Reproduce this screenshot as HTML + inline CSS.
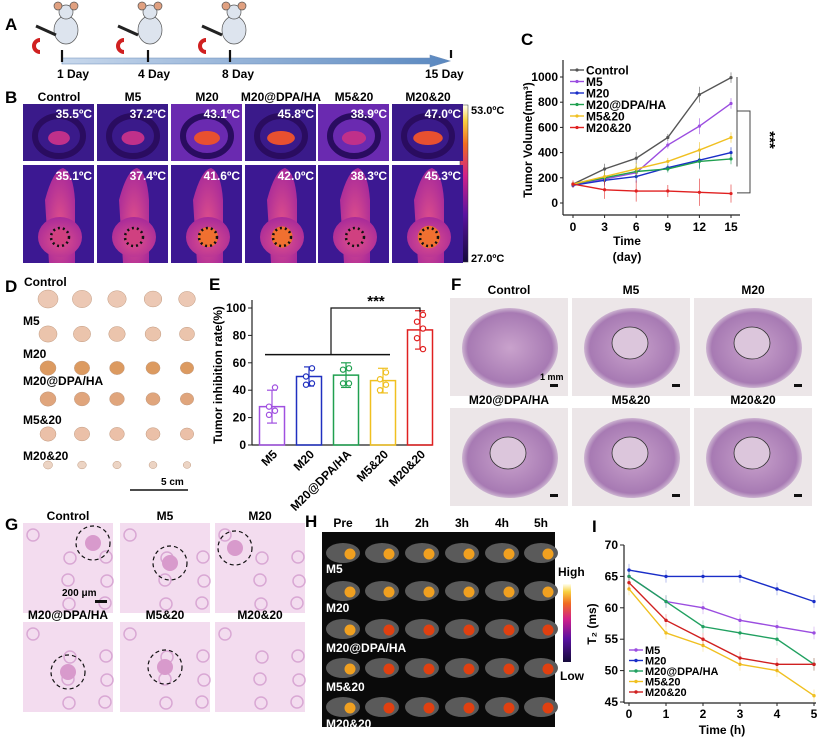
<!DOCTYPE html>
<html><head><meta charset="utf-8"><style>
html,body{margin:0;padding:0;background:#fff}
svg{display:block;font-family:"Liberation Sans",Arial,sans-serif;font-weight:bold}
</style></head><body>
<svg id="fig" width="825" height="740" viewBox="0 0 825 740">
<defs>
<linearGradient id="therm" x1="0" y1="1" x2="0" y2="0">
<stop offset="0" stop-color="#140a3a"/><stop offset="0.3" stop-color="#5a12a0"/><stop offset="0.55" stop-color="#d0208a"/><stop offset="0.75" stop-color="#f06a20"/><stop offset="0.9" stop-color="#f8d040"/><stop offset="1" stop-color="#fffff0"/></linearGradient>
<radialGradient id="mouse" cx="0.5" cy="0.6" r="0.6"><stop offset="0" stop-color="#e0508a"/><stop offset="1" stop-color="#a82a9a"/></radialGradient>
<radialGradient id="tissue" cx="0.5" cy="0.5" r="0.55"><stop offset="0" stop-color="#c9a2cc"/><stop offset="0.8" stop-color="#a77ab3"/><stop offset="1" stop-color="#ece4ea"/></radialGradient>
<linearGradient id="arrow" x1="0" x2="1"><stop offset="0" stop-color="#c8d8ec"/><stop offset="1" stop-color="#5a88c0"/></linearGradient>
</defs>

<!-- Panel A -->
<g>
<text x="5" y="30" font-size="17">A</text>
<polygon points="62,58 430,58 430,55 450,61 430,67 430,64 62,64" fill="url(#arrow)" stroke="#6a8cb8" stroke-width="0.6"/>
<g stroke="#111" stroke-width="2.2">
<line x1="62" y1="50" x2="62" y2="62"/><line x1="148" y1="50" x2="148" y2="62"/><line x1="230" y1="50" x2="230" y2="62"/><line x1="451" y1="50" x2="451" y2="58"/></g>
<g font-size="12"><text x="57" y="78">1 Day</text><text x="138" y="78">4 Day</text><text x="222" y="78">8 Day</text><text x="425" y="78">15 Day</text></g>
<g fill="#dde4ee" stroke="#555" stroke-width="0.7">
<ellipse cx="66" cy="30" rx="12" ry="14"/><circle cx="66" cy="12" r="7"/><circle cx="58" cy="6" r="4" fill="#e0a080"/><circle cx="74" cy="6" r="4" fill="#e0a080"/>
<ellipse cx="150" cy="30" rx="12" ry="14"/><circle cx="150" cy="12" r="7"/><circle cx="142" cy="6" r="4" fill="#e0a080"/><circle cx="158" cy="6" r="4" fill="#e0a080"/>
<ellipse cx="234" cy="30" rx="12" ry="14"/><circle cx="234" cy="12" r="7"/><circle cx="226" cy="6" r="4" fill="#e0a080"/><circle cx="242" cy="6" r="4" fill="#e0a080"/>
</g>
<g stroke-width="4" fill="none"><path d="M40,52 a6,6 0 0 1 0,-12" stroke="#d02020"/><path d="M124,52 a6,6 0 0 1 0,-12" stroke="#d02020"/><path d="M206,52 a6,6 0 0 1 0,-12" stroke="#d02020"/></g>
<g stroke="#222" stroke-width="3"><line x1="36" y1="26" x2="56" y2="35"/><line x1="118" y1="26" x2="138" y2="35"/><line x1="202" y1="26" x2="222" y2="35"/></g>
</g>

<!-- Panel B -->
<g id="panelB">
<text x="5" y="103" font-size="17">B</text>
<rect x="460" y="105" width="8" height="157" fill="url(#therm)" stroke="#333" stroke-width="0.5"/>
<text x="471" y="114" font-size="11">53.0ºC</text>
<text x="471" y="262" font-size="11">27.0ºC</text>
</g>

<!-- Panel C -->
<g id="panelC">
<text x="521" y="45" font-size="17">C</text>
</g>

<!-- Panel D -->
<g id="panelD">
<text x="5" y="292" font-size="17">D</text>
<g font-size="12"><text x="24" y="286">Control</text><text x="23" y="325">M5</text><text x="23" y="358">M20</text><text x="23" y="385">M20@DPA/HA</text><text x="23" y="424">M5&amp;20</text><text x="23" y="460">M20&amp;20</text></g>
<line x1="130" y1="490" x2="188" y2="490" stroke="#111" stroke-width="1.5"/>
<text x="161" y="485" font-size="10">5 cm</text>
</g>

<!-- Panel E -->
<g id="panelE">
<text x="209" y="290" font-size="17">E</text>
</g>

<!-- Panel F -->
<g id="panelF">
<text x="451" y="290" font-size="17">F</text>
</g>

<!-- Panel G -->
<g id="panelG">
<text x="5" y="530" font-size="17">G</text>
</g>

<!-- Panel H -->
<g id="panelH">
<text x="305" y="527" font-size="17">H</text>
<rect x="322" y="532" width="233" height="195" fill="#0a0a0a"/>
<rect x="563" y="584" width="8" height="78" fill="url(#therm)"/>
<text x="558" y="576" font-size="12">High</text>
<text x="560" y="680" font-size="12">Low</text>
</g>

<!-- Panel I -->
<g id="panelI">
<text x="592" y="532" font-size="17">I</text>
</g>
</svg>

<script>
// ---------- Chart C data ----------
const cDays = [0, 3, 6, 9, 12, 15];
const cSeriesNames = ["Control", "M5", "M20", "M20@DPA/HA", "M5&20", "M20&20"];
const cControl = [150, 270, 355, 520, 860, 995];
const cM5 = [150, 190, 240, 460, 610, 790];
const cM20 = [140, 180, 210, 280, 340, 400];
const cDPA = [150, 200, 250, 270, 330, 350];
const cM5_20 = [150, 210, 270, 330, 420, 520];
const cM20_20 = [150, 105, 95, 95, 85, 75];
const cErr = [25, 60, 70, 40, 90, 60];
const cYTicks = [0, 200, 400, 600, 800, 1000];

// ---------- Chart E data ----------
const eGroups = ["M5", "M20", "M20@DPA/HA", "M5&20", "M20&20"];
const eMeans = [28, 50, 51, 47, 84];
const eSD = [12, 7, 9, 9, 14];
const eDots = [[42, 28, 25, 22], [56, 50, 45, 44], [56, 55, 45, 45], [53, 48, 44, 40], [95, 90, 85, 78, 70]];
const eYTicks = [0, 20, 40, 60, 80, 100];

// ---------- Chart I data ----------
const iHours = [0, 1, 2, 3, 4, 5];
const iNames = ["M5", "M20", "M20@DPA/HA", "M5&20", "M20&20"];
const iM5 = [65, 61, 60, 58, 57, 56];
const iM20 = [66, 65, 65, 65, 63, 61];
const iDPA = [65, 61, 57, 56, 55, 51];
const iM5_20 = [63, 56, 54, 51, 50, 46];
const iM20_20 = [64, 58, 55, 52, 51, 51];
const iYTicks = [45, 50, 55, 60, 65, 70];

// ---------- image panel labels ----------
const bGroups = ["Control", "M5", "M20", "M20@DPA/HA", "M5&20", "M20&20"];
const bTop = ["35.5", "37.2", "43.1", "45.8", "38.9", "47.0"];
const bBottom = ["35.1", "37.4", "41.6", "42.0", "38.3", "45.3"];

const NS = "http://www.w3.org/2000/svg";
function mk(parent, tag, attrs, text) {
  const e = document.createElementNS(NS, tag);
  for (const k in attrs) e.setAttribute(k, attrs[k]);
  if (text !== undefined) e.textContent = text;
  parent.appendChild(e);
  return e;
}

// ---------- Panel B ----------
(function () {
  const g = document.getElementById("panelB");
  const xs = [23, 97, 171, 245, 318, 392];
  const heat = [0.15, 0.25, 0.5, 0.65, 0.35, 0.8];
  xs.forEach((x, i) => {
    const lbl = mk(g, "text", {x: x + 36, y: 101, "font-size": 12, "text-anchor": "middle"}, bGroups[i]);
    
    
    mk(g, "rect", {x: x, y: 104, width: 71, height: 57, fill: i == 2 || i == 4 ? "#6a2ab0" : "#3a1a8a"});
    mk(g, "ellipse", {cx: x + 36, cy: 136, rx: 24, ry: 20, fill: "none", stroke: "#2a0c60", "stroke-width": 6});
    mk(g, "ellipse", {cx: x + 36, cy: 138, rx: 10 + heat[i] * 6, ry: 7, fill: heat[i] > 0.45 ? "#e85030" : "#c0308a"});
    mk(g, "text", {x: x + 69, y: 118, "font-size": 12, fill: "#fff", "text-anchor": "end"}, bTop[i] + "ºC");
    mk(g, "rect", {x: x, y: 165, width: 71, height: 98, fill: "#3c1892"});
    mk(g, "path", {d: `M${x+26},263 L${x+22},200 Q${x+30},170 ${x+40},168 Q${x+50},172 ${x+52},200 L${x+52},263 Z`, fill: "url(#mouse)"});
    mk(g, "ellipse", {cx: x + 37, cy: 237, rx: 22, ry: 20, fill: "url(#mouse)"});
    mk(g, "circle", {cx: x + 37, cy: 237, r: 8 + heat[i] * 4, fill: heat[i] > 0.45 ? "#f07030" : "#d04080"});
    mk(g, "circle", {cx: x + 37, cy: 237, r: 9, fill: "none", stroke: "#111", "stroke-width": 2.5, "stroke-dasharray": "2 3"});
    mk(g, "text", {x: x + 69, y: 180, "font-size": 12, fill: "#fff", "text-anchor": "end"}, bBottom[i] + "ºC");
  });
})();

// ---------- Panel D tumours ----------
(function () {
  const g = document.getElementById("panelD");
  const rows = [299, 334, 368, 399, 434, 465];
  const cols = [48, 82, 117, 153, 187];
  const sizes = [10, 9, 8, 8, 8, 4.5];
  const cols2 = ["#ecc8b4", "#ebc4ac", "#dc9a60", "#e0a57c", "#ebc0a8", "#ecd4c4"];
  rows.forEach((y, r) => cols.forEach((x, c) => {
    const s = sizes[r] * (1 - c * 0.04);
    mk(g, "ellipse", {cx: x, cy: y, rx: s, ry: s * 0.9, fill: cols2[r], stroke: "#c09a80", "stroke-width": 0.5});
  }));
})();

// ---------- Panel C ----------
(function () {
  const g = document.getElementById("panelC");
  const X0 = 573, X1 = 731, Y0 = 203, Y1 = 77;
  const xs = d => X0 + (d - 0) / 15 * (X1 - X0);
  const ys = v => Y0 - v / 1000 * (Y0 - Y1);
  mk(g, "line", {x1: 563, y1: 60, x2: 563, y2: 215, stroke: "#222", "stroke-width": 1.2});
  mk(g, "line", {x1: 563, y1: 215, x2: 740, y2: 215, stroke: "#222", "stroke-width": 1.2});
  cYTicks.forEach(t => {
    mk(g, "line", {x1: 560, y1: ys(t), x2: 563, y2: ys(t), stroke: "#222"});
    mk(g, "text", {x: 558, y: ys(t) + 4, "font-size": 12, "text-anchor": "end"}, t);
  });
  cDays.forEach(d => {
    mk(g, "line", {x1: xs(d), y1: 215, x2: xs(d), y2: 218, stroke: "#222"});
    mk(g, "text", {x: xs(d), y: 231, "font-size": 12, "text-anchor": "middle"}, d);
  });
  mk(g, "text", {x: 627, y: 245, "font-size": 12, "text-anchor": "middle"}, "Time");
  mk(g, "text", {x: 627, y: 261, "font-size": 12, "text-anchor": "middle"}, "(day)");
  mk(g, "text", {x: 532, y: 140, "font-size": 12, "text-anchor": "middle", transform: "rotate(-90 532 140)"}, "Tumor Volume(mm³)");
  const series = [cControl, cM5, cM20, cDPA, cM5_20, cM20_20];
  const colors = ["#555555", "#9b4de0", "#1a2ec8", "#20a050", "#f0c020", "#e02020"];
  series.forEach((s, k) => {
    const pts = s.map((v, i) => xs(cDays[i]) + "," + ys(v)).join(" ");
    s.forEach((v, i) => {
      const e = cErr[i] * (k == 5 ? 1.2 : 0.7);
      mk(g, "line", {x1: xs(cDays[i]), y1: ys(v - e), x2: xs(cDays[i]), y2: ys(v + e), stroke: colors[k], "stroke-width": 0.8, opacity: 0.7});
    });
    const pl = mk(g, "polyline", {points: pts, fill: "none", stroke: colors[k], "stroke-width": 1.4});
    
    
    s.forEach((v, i) => mk(g, "circle", {cx: xs(cDays[i]), cy: ys(v), r: 1.6, fill: colors[k]}));
    const ly = 70 + k * 11.5;
    mk(g, "line", {x1: 570, y1: ly, x2: 584, y2: ly, stroke: colors[k], "stroke-width": 1.4});
    mk(g, "circle", {cx: 577, cy: ly, r: 1.6, fill: colors[k]});
    const lt = mk(g, "text", {x: 586, y: ly + 4.5, "font-size": 12}, cSeriesNames[k]);
    
    
  });
  mk(g, "path", {d: `M737,${ys(1000)} L737,${ys(290)}`, stroke: "#444", fill: "none"});
  mk(g, "path", {d: `M737,${ys(730)} L750,${ys(730)} L750,${ys(80)} L737,${ys(80)}`, stroke: "#444", fill: "none"});
  mk(g, "text", {x: 765, y: 140, "font-size": 15, "text-anchor": "middle", transform: "rotate(90 765 140)"}, "***");
})();

// ---------- Panel E ----------
(function () {
  const g = document.getElementById("panelE");
  const Y0 = 445, Y1 = 308, bw = 25;
  const ys = v => Y0 - v / 100 * (Y0 - Y1);
  const xc = i => 272 + i * 37;
  const colors = ["#a050e0", "#2030c0", "#20a050", "#f0c020", "#e02020"];
  mk(g, "line", {x1: 252, y1: 300, x2: 252, y2: 445, stroke: "#222", "stroke-width": 1.2});
  mk(g, "line", {x1: 252, y1: 445, x2: 432, y2: 445, stroke: "#222", "stroke-width": 1.2});
  eYTicks.forEach(t => {
    mk(g, "line", {x1: 248, y1: ys(t), x2: 252, y2: ys(t), stroke: "#222"});
    mk(g, "text", {x: 246, y: ys(t) + 4, "font-size": 12, "text-anchor": "end"}, t);
  });
  mk(g, "text", {x: 222, y: 375, "font-size": 12, "text-anchor": "middle", transform: "rotate(-90 222 375)"}, "Tumor inhibition rate(%)");
  eGroups.forEach((n, i) => {
    const r = mk(g, "rect", {x: xc(i) - bw / 2, y: ys(eMeans[i]), width: bw, height: Y0 - ys(eMeans[i]), fill: "none", stroke: colors[i], "stroke-width": 1.5});
    
    
    mk(g, "line", {x1: xc(i), y1: ys(eMeans[i] - eSD[i]), x2: xc(i), y2: ys(eMeans[i] + eSD[i]), stroke: colors[i], "stroke-width": 1.2});
    [eMeans[i] - eSD[i], eMeans[i] + eSD[i]].forEach(v => mk(g, "line", {x1: xc(i) - 5, y1: ys(v), x2: xc(i) + 5, y2: ys(v), stroke: colors[i], "stroke-width": 1.2}));
    eDots[i].forEach((v, j) => mk(g, "circle", {cx: xc(i) + ((j % 2) ? -3 : 3), cy: ys(v), r: 2.6, fill: "#fff", stroke: colors[i], "stroke-width": 1.2}));
    mk(g, "text", {x: xc(i) + 6, y: 455, "font-size": 12, "text-anchor": "end", transform: `rotate(-45 ${xc(i) + 6} 455)`}, n);
  });
  mk(g, "line", {x1: 265, y1: ys(66), x2: 390, y2: ys(66), stroke: "#111", "stroke-width": 1.5});
  mk(g, "path", {d: `M331,${ys(66)} L331,${ys(100)} L420,${ys(100)} L420,${ys(97)}`, stroke: "#111", fill: "none", "stroke-width": 1.2});
  mk(g, "text", {x: 376, y: ys(100) - 2, "font-size": 15, "text-anchor": "middle"}, "***");
})();

// ---------- Panel F ----------
(function () {
  const g = document.getElementById("panelF");
  const names = ["Control", "M5", "M20", "M20@DPA/HA", "M5&20", "M20&20"];
  const cells = [[450, 298], [572, 298], [694, 298], [450, 408], [572, 408], [694, 408]];
  cells.forEach((c, i) => {
    mk(g, "rect", {x: c[0], y: c[1], width: 118, height: 98, fill: "#ece6e8"});
    mk(g, "ellipse", {cx: c[0] + 60, cy: c[1] + 50, rx: 48, ry: 40, fill: "url(#tissue)"});
    if (i > 0) mk(g, "ellipse", {cx: c[0] + 58, cy: c[1] + 45, rx: 18, ry: 16, fill: "#dcc6dc", stroke: "#333", "stroke-width": 0.8});
    mk(g, "rect", {x: c[0] + 100, y: c[1] + 86, width: 8, height: 3, fill: "#111"});
    mk(g, "text", {x: c[0] + 59, y: c[1] - 4, "font-size": 12, "text-anchor": "middle"}, names[i]);
  });
  mk(g, "text", {x: 540, y: 380, "font-size": 9}, "1 mm");
})();

// ---------- Panel G ----------
(function () {
  const g = document.getElementById("panelG");
  const names = ["Control", "M5", "M20", "M20@DPA/HA", "M5&20", "M20&20"];
  const cells = [[23, 523], [120, 523], [215, 523], [23, 622], [120, 622], [215, 622]];
  const circ = [[70, 20], [50, 40], [20, 25], [45, 50], [45, 45], null];
  cells.forEach((c, i) => {
    mk(g, "text", {x: c[0] + 45, y: c[1] - 3, "font-size": 12, "text-anchor": "middle"}, names[i]);
    mk(g, "rect", {x: c[0], y: c[1], width: 90, height: 90, fill: "#f3dcef"});
    for (let k = 0; k < 7; k++) mk(g, "circle", {cx: c[0] + 10 + (k * 37) % 75, cy: c[1] + 12 + (k * 23) % 70, r: 6, fill: "none", stroke: "#d9a8d4", "stroke-width": 1.5});
    if (circ[i]) {
      mk(g, "circle", {cx: c[0] + circ[i][0], cy: c[1] + circ[i][1], r: 8, fill: "#d89acc"});
      mk(g, "circle", {cx: c[0] + circ[i][0], cy: c[1] + circ[i][1], r: 17, fill: "none", stroke: "#111", "stroke-dasharray": "4 3", "stroke-width": 1.2});
    }
  });
  mk(g, "rect", {x: 95, y: 600, width: 12, height: 3, fill: "#111"});
  mk(g, "text", {x: 62, y: 596, "font-size": 10}, "200 μm");
})();

// ---------- Panel H ----------
(function () {
  const g = document.getElementById("panelH");
  const heads = ["Pre", "1h", "2h", "3h", "4h", "5h"];
  const colX = [343, 382, 422, 462, 502, 541];
  const rowsY = [553, 591, 629, 668, 707];
  const labels = ["M5", "M20", "M20@DPA/HA", "M5&20", "M20&20"];
  heads.forEach((h, j) => mk(g, "text", {x: colX[j], y: 527, "font-size": 12, "text-anchor": "middle"}, h));
  for (let r = 0; r < 5; r++) for (let j = 0; j < 6; j++) {
    const cx = colX[j], cy = rowsY[r];
    mk(g, "ellipse", {cx: cx, cy: cy, rx: 17, ry: 10, fill: "#5a5a5a"});
    mk(g, "circle", {cx: cx + 7, cy: cy + 1, r: 5.5, fill: j == 0 || r < 2 ? "#f0a020" : "#e04010"});
  }
  const ly = [575, 614, 654, 693, 730];
  labels.forEach((l, r) => mk(g, "text", {x: 326, y: ly[r] - 2, "font-size": 12, fill: "#fff"}, l));
})();

// ---------- Panel I ----------
(function () {
  const g = document.getElementById("panelI");
  const X0 = 629, X1 = 814, Y0 = 702, Y1 = 545;
  const xs = h => X0 + h / 5 * (X1 - X0);
  const ys = v => Y0 - (v - 45) / 25 * (Y0 - Y1);
  mk(g, "line", {x1: 624, y1: 545, x2: 624, y2: 703, stroke: "#222", "stroke-width": 1.2});
  mk(g, "line", {x1: 624, y1: 703, x2: 816, y2: 703, stroke: "#222", "stroke-width": 1.2});
  iYTicks.forEach(t => {
    mk(g, "line", {x1: 620, y1: ys(t), x2: 624, y2: ys(t), stroke: "#222"});
    mk(g, "text", {x: 618, y: ys(t) + 4, "font-size": 12, "text-anchor": "end"}, t);
  });
  iHours.forEach(h => {
    mk(g, "line", {x1: xs(h), y1: 703, x2: xs(h), y2: 706, stroke: "#222"});
    mk(g, "text", {x: xs(h), y: 718, "font-size": 12, "text-anchor": "middle"}, h);
  });
  mk(g, "text", {x: 722, y: 734, "font-size": 12, "text-anchor": "middle"}, "Time (h)");
  mk(g, "text", {x: 596, y: 624, "font-size": 12, "text-anchor": "middle", transform: "rotate(-90 596 624)"}, "T₂ (ms)");
  const series = [iM5, iM20, iDPA, iM5_20, iM20_20];
  const colors = ["#9b4de0", "#1a2ec8", "#20a060", "#f0c020", "#d02020"];
  series.forEach((s, k) => {
    s.forEach((v, i) => mk(g, "line", {x1: xs(iHours[i]), y1: ys(v - 1), x2: xs(iHours[i]), y2: ys(v + 1), stroke: colors[k], "stroke-width": 0.6, opacity: 0.5}));
    const pl = mk(g, "polyline", {points: s.map((v, i) => xs(iHours[i]) + "," + ys(v)).join(" "), fill: "none", stroke: colors[k], "stroke-width": 1.4});
    
    
    s.forEach((v, i) => mk(g, "circle", {cx: xs(iHours[i]), cy: ys(v), r: 1.7, fill: colors[k]}));
    const ly = 650 + k * 10.5;
    mk(g, "line", {x1: 629, y1: ly, x2: 643, y2: ly, stroke: colors[k], "stroke-width": 1.4});
    mk(g, "circle", {cx: 636, cy: ly, r: 1.7, fill: colors[k]});
    const lt = mk(g, "text", {x: 645, y: ly + 4, "font-size": 11}, iNames[k]);
    
    
  });
})();
</script>
</body></html>
